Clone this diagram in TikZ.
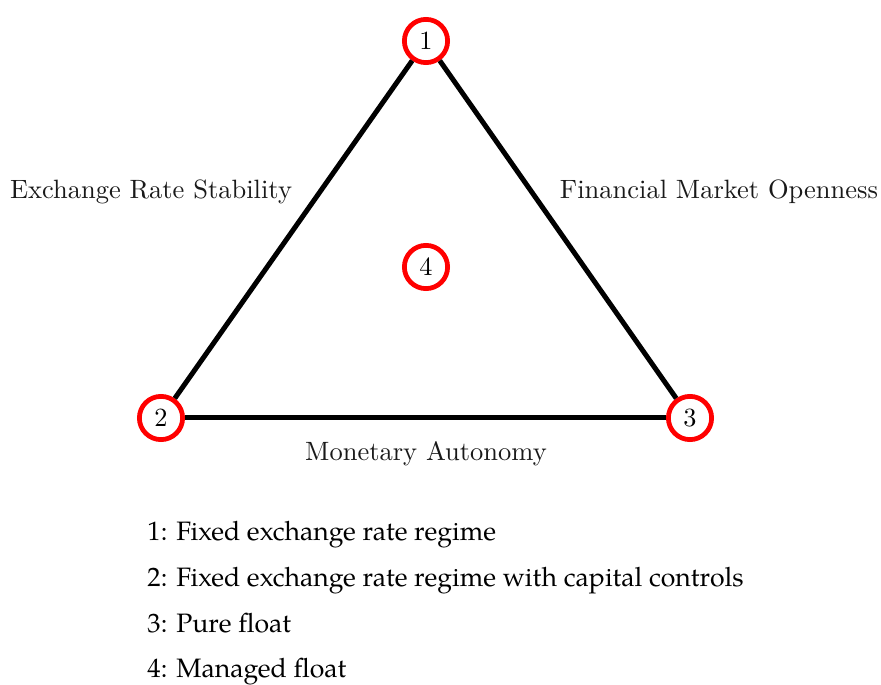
\documentclass[tikz,border=0pt]{standalone}
\usepackage{fontspec}
\newfontfamily\legendfont{TeX Gyre Pagella}
\begin{document}
\begin{tikzpicture}[x=0.4pt,y=-0.4pt,
  corner/.style={circle,draw=red,line width=1.9pt,fill=white,minimum size=17.3pt,inner sep=0pt,font=\fontsize{10.5}{12}\selectfont},
  side/.style={line width=2pt,black},
  sidelabel/.style={anchor=base,inner sep=0pt,font=\fontsize{10.6}{12}\selectfont,text=black!90},
  legend/.style={anchor=base west,font=\legendfont\fontsize{10.65}{12}\selectfont,inner sep=0pt}]
\useasboundingbox (0,0) rectangle (881,685);
\node[corner] (n1) at (426,41) {1};
\node[corner] (n2) at (161,418) {2};
\node[corner] (n3) at (690,418) {3};
\node[corner] (n4) at (426,267) {4};
\draw[side] (n1) -- (n2);
\draw[side] (n1) -- (n3);
\draw[side] (n2) -- (n3);
\node[sidelabel] (l1) at (151,199) {Exchange Rate Stability};
\node[sidelabel] (l2) at (719,199) {Financial Market Openness};
\node[sidelabel] (l3) at (426,461) {Monetary Autonomy};
\node[legend] (g1) at (147,541) {1: Fixed exchange rate regime};
\node[legend] (g2) at (147,587) {2: Fixed exchange rate regime with capital controls};
\node[legend] (g3) at (147,632.5) {3: Pure float};
\node[legend] (g4) at (147,678) {4: Managed float};
\end{tikzpicture}
\end{document}
